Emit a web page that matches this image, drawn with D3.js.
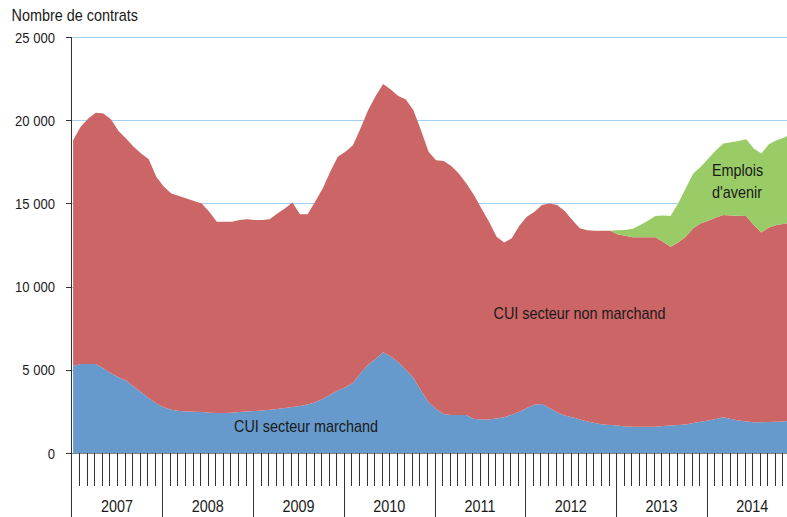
<!DOCTYPE html>
<html><head><meta charset="utf-8">
<script src="https://cdn.jsdelivr.net/npm/d3@7/dist/d3.min.js"></script>
<style>
body{margin:0;background:#fff}
svg{display:block}
text{font-family:"Liberation Sans",Arial,Helvetica,sans-serif;fill:#1a1a1a}
</style>
</head><body>
<svg id="chart" width="787" height="517"></svg>
<script>
// ---- Data (monthly, Jan 2007 – Dec 2014) ----
const years = ["2007","2008","2009","2010","2011","2012","2013","2014"];
const yTickValues = [0, 5000, 10000, 15000, 20000, 25000];
const yTickLabels = ["0", "5 000", "10 000", "15 000", "20 000", "25 000"];

const marchand = [
  5230,5350,5350,5350,5100,4800,4550,4350,4000,3650,3300,2980,
  2750,2600,2520,2500,2480,2460,2420,2400,2400,2420,2460,2500,
  2520,2560,2600,2650,2700,2760,2820,2920,3050,3250,3500,3750,
  3950,4200,4800,5300,5650,6050,5800,5450,5000,4500,3750,3050,
  2650,2350,2280,2280,2280,2050,2020,2020,2080,2150,2300,2480,
  2700,2900,2950,2700,2450,2250,2150,2020,1900,1800,1720,1680,
  1650,1600,1580,1580,1580,1580,1620,1650,1680,1720,1800,1880,
  1950,2050,2150,2050,1950,1900,1850,1850,1870,1880,1900,1950
];
const nonMarchand = [
  13570,14250,14750,15100,15300,15250,14800,14550,14400,14350,14350,13620,
  13250,13000,12930,12800,12670,12540,12080,11500,11500,11480,11540,11550,
  11480,11440,11450,11750,12000,12290,11530,11430,12050,12650,13400,14050,
  14150,14300,14700,15300,15800,16130,16050,16000,16250,16100,15650,15050,
  14950,15200,14970,14520,13920,13450,12680,11880,10920,10500,10600,11170,
  11500,11600,11950,12300,12450,12300,11850,11480,11480,11560,11640,11680,
  11500,11450,11380,11380,11380,11380,11080,10750,10970,11280,11700,11920,
  12000,12100,12150,12230,12310,12340,11850,11400,11680,11820,11870,11900
];
const emploisAvenir = [
  null,null,null,null,null,null,null,null,null,null,null,null,
  null,null,null,null,null,null,null,null,null,null,null,null,
  null,null,null,null,null,null,null,null,null,null,null,null,
  null,null,null,null,null,null,null,null,null,null,null,null,
  null,null,null,null,null,null,null,null,null,null,null,null,
  null,null,null,null,null,null,null,null,null,null,null,0,
  230,350,520,740,990,1290,1580,1840,2350,2900,3300,3400,
  3750,4050,4300,4400,4490,4610,4600,4750,5000,5100,5180,5350
];
const seriesNames = ["CUI secteur marchand", "CUI secteur non marchand", "Emplois d'avenir"];
const colors = ["#6699cc", "#cc6666", "#99cc66"];

// ---- Build ----
const svg = d3.select("#chart");
const x = d3.scaleLinear().domain([0, 96]).range([71.6, 797.6]);
const y = d3.scaleLinear().domain([0, 25000]).range([453, 37]);

const rows = marchand.map((m, i) => ({ i, m, nm: nonMarchand[i], ea: emploisAvenir[i] }));
const keys = ["m", "nm", "ea"];
const stacked = d3.stack().keys(keys).value((d, k) => d[k] == null ? 0 : d[k])(rows);

// gridlines
svg.append("g").selectAll("line").data(yTickValues.filter(v => v > 0)).join("line")
  .attr("x1", 71).attr("x2", 787)
  .attr("y1", d => Math.round(y(d)) + 0.5).attr("y2", d => Math.round(y(d)) + 0.5)
  .attr("stroke", "#a3cff5").attr("stroke-width", 1.2);

// areas
stacked.forEach((layer, li) => {
  const area = d3.area()
    .x(d => x(d.data.i + 0.2))
    .y0(d => y(d[0])).y1(d => y(d[1]))
    .curve(d3.curveLinear);
  if (keys[li] === "ea") area.defined(d => d.data.ea != null);
  svg.append("path").datum(layer).attr("d", area).attr("fill", colors[li]);
});

// y axis
const axisColor = "#333";
svg.append("line").attr("x1", 71.5).attr("x2", 71.5).attr("y1", 37).attr("y2", 517)
  .attr("stroke", axisColor).attr("stroke-width", 1);
const yt = svg.append("g");
yTickValues.forEach((v, k) => {
  const yy = Math.round(y(v)) + 0.5;
  yt.append("line").attr("x1", 66).attr("x2", 71).attr("y1", yy).attr("y2", yy)
    .attr("stroke", axisColor);
  yt.append("text").attr("transform", `translate(55,${y(v) + 5.5}) scale(0.9,1)`)
    .attr("text-anchor", "end").attr("font-size", 14.5).text(yTickLabels[k]);
});

// x axis
svg.append("line").attr("x1", 71).attr("x2", 787).attr("y1", 453.5).attr("y2", 453.5)
  .attr("stroke", axisColor).attr("stroke-width", 0.6);
const xt = svg.append("g");
d3.range(1, 97).forEach(k => {
  const xx = Math.round(x(k)) + 0.5;
  xt.append("line").attr("x1", xx).attr("x2", xx)
    .attr("y1", 453).attr("y2", k % 12 === 0 ? 517 : 486)
    .attr("stroke", axisColor).attr("stroke-width", 1);
});
years.forEach((yr, k) => {
  svg.append("text").attr("transform", `translate(${x(k * 12 + 6)},512) scale(0.9,1)`)
    .attr("text-anchor", "middle").attr("font-size", 16).text(yr);
});

// titles and labels
svg.append("text").attr("transform", "translate(11.5,21) scale(0.9,1)")
  .attr("font-size", 16).text("Nombre de contrats");
svg.append("text").attr("transform", "translate(234,432) scale(0.9,1)")
  .attr("font-size", 16).text(seriesNames[0]);
svg.append("text").attr("transform", "translate(493.5,319) scale(0.9,1)")
  .attr("font-size", 16).text(seriesNames[1]);
svg.append("text").attr("transform", "translate(712,176) scale(0.9,1)")
  .attr("font-size", 16).text("Emplois");
svg.append("text").attr("transform", "translate(712,198) scale(0.9,1)")
  .attr("font-size", 16).text("d'avenir");
</script>
</body></html>
